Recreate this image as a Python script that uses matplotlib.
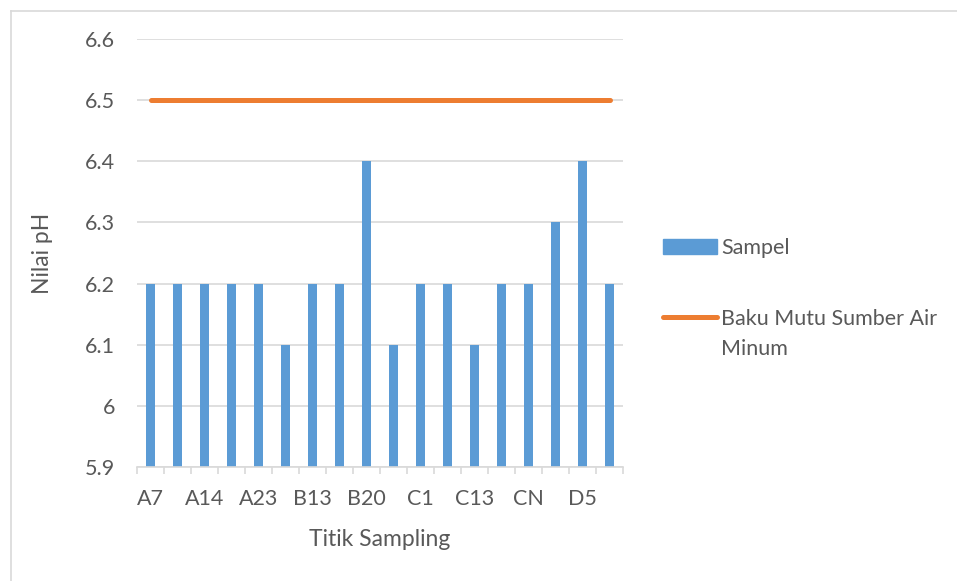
import matplotlib
matplotlib.use("Agg")
import matplotlib.pyplot as plt
from matplotlib.ticker import FuncFormatter, FixedLocator
from matplotlib.patches import Rectangle
from matplotlib.lines import Line2D
import numpy as np

categories = ["A7", "A10", "A14", "A18", "A23", "B5", "B13", "B17", "B20",
              "B24", "C1", "C7", "C13", "C20", "CN", "D1", "D5", "D9"]
sampel = [6.2, 6.2, 6.2, 6.2, 6.2, 6.1, 6.2, 6.2, 6.4,
          6.1, 6.2, 6.2, 6.1, 6.2, 6.2, 6.3, 6.4, 6.2]
baku_mutu = [6.5] * len(categories)
y_ticks = [5.9, 6.0, 6.1, 6.2, 6.3, 6.4, 6.5, 6.6]

plt.rcParams['font.family'] = ['Lato', 'DejaVu Sans']
txt = '#595959'
W, H = 957, 581

fig = plt.figure(figsize=(W/100, H/100), dpi=100)
# chart border (only top and left edges are visible in the crop)
fig.lines.append(Line2D([10.5/W, 1.0], [1-10.5/H, 1-10.5/H], transform=fig.transFigure,
                        color='#D9D9D9', linewidth=1.2))
fig.lines.append(Line2D([10.5/W, 10.5/W], [0, 1-10.5/H], transform=fig.transFigure,
                        color='#D9D9D9', linewidth=1.2))

ax = fig.add_axes([137/W, 1-467/H, 486/W, 428/H])

x = np.arange(len(categories))
ax.bar(x, [v - 5.9 for v in sampel], bottom=5.9, width=0.34, color='#5B9BD5',
       zorder=3, label='Sampel')
ax.plot(x, baku_mutu, color='#ED7D31', linewidth=3.6, solid_capstyle='round',
        zorder=4, label='Baku Mutu Sumber Air')

ax.set_ylim(5.9, 6.6)
ax.set_xlim(-0.5, len(categories) - 0.5)
ax.set_yticks(y_ticks)
ax.yaxis.set_major_formatter(FuncFormatter(lambda v, p: f"{v:g}"))
ax.grid(axis='y', color='#D9D9D9', linewidth=1.2, zorder=0)
ax.tick_params(axis='y', length=0, labelsize=15.5, labelcolor=txt, pad=16)

ax.set_xticks(x[::2])
ax.set_xticklabels(categories[::2])
ax.xaxis.set_minor_locator(FixedLocator(np.arange(-0.5, len(categories), 1)))
ax.tick_params(axis='x', which='major', length=0, labelsize=15.5, labelcolor=txt, pad=16)
ax.tick_params(axis='x', which='minor', length=5, color='#D9D9D9', width=1.2)

for s in ['left', 'right', 'top']:
    ax.spines[s].set_visible(False)
ax.spines['bottom'].set_color('#D9D9D9')
ax.spines['bottom'].set_linewidth(1.2)
ax.spines['bottom'].set_zorder(5)

ax.set_ylabel('Nilai pH', fontsize=16.5, color=txt, labelpad=23)
ax.set_xlabel('Titik Sampling', fontsize=16.5, color=txt, labelpad=14)

handles = [Rectangle((0, 0), 1, 1, color='#5B9BD5'),
           Line2D([0], [0], color='#ED7D31', linewidth=3.6, solid_capstyle='round')]
leg = fig.legend(handles, ['Sampel', 'Baku Mutu Sumber Air'],
                 loc='upper left', bbox_to_anchor=(663/W, 1-238/H),
                 frameon=False, fontsize=15.5, labelcolor=txt,
                 handlelength=2.5, handleheight=0.7, handletextpad=0.2,
                 labelspacing=2.35, borderaxespad=0, borderpad=0)

fig.canvas.draw()
t = leg.get_texts()[1]
bb = t.get_window_extent()
fig.text(bb.x0 / W, (bb.y0 - 30) / H, 'Minum', fontsize=15.5, color=txt,
         ha='left', va='bottom')

fig.savefig('out.png', dpi=100)
